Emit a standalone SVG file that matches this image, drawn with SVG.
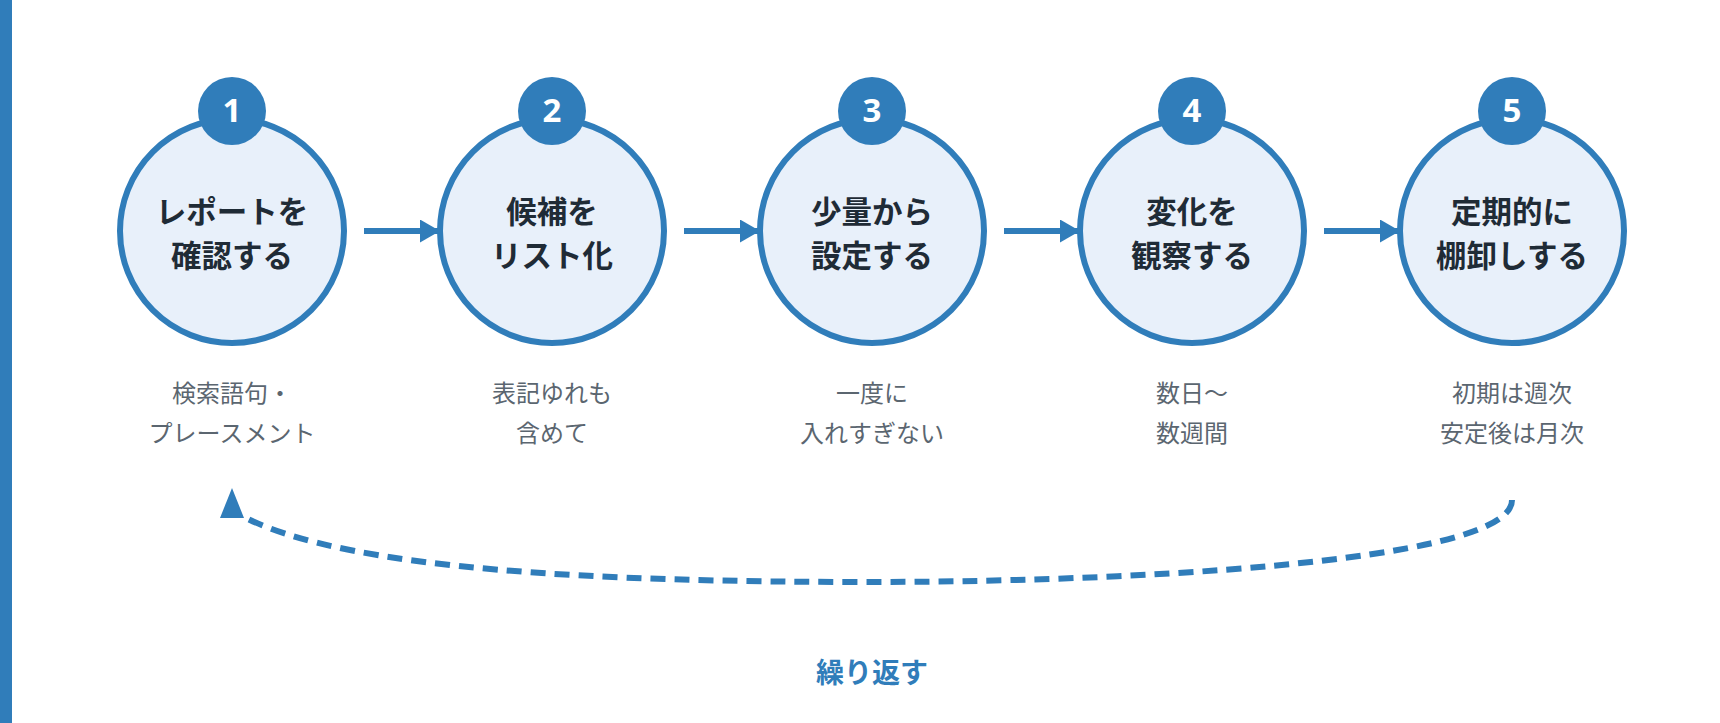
<svg xmlns="http://www.w3.org/2000/svg" width="1720" height="723" viewBox="0 0 1720 723">
<style>
.ring{fill:#e8f0fa;stroke:#307dba;stroke-width:6}
.badge{fill:#307dba}
.num{font-family:"Noto Sans","Noto Sans CJK JP",sans-serif;font-weight:700;font-size:33px;fill:#ffffff;text-anchor:middle}
.lbl{font-family:"Noto Sans CJK JP",sans-serif;font-weight:700;font-size:30.5px;fill:#1f2b36;text-anchor:middle}
.sub{font-family:"Noto Sans CJK JP",sans-serif;font-size:24px;fill:#5b6670;text-anchor:middle}
.conn{stroke:#307dba;stroke-width:6;fill:none}
.loop{stroke:#307dba;stroke-width:6;fill:none;stroke-dasharray:15 9}
.cap{font-family:"Noto Sans CJK JP",sans-serif;font-weight:700;font-size:28px;fill:#307dba;text-anchor:middle}
</style>
<defs>
<marker id="ah" markerWidth="20" markerHeight="23" refX="20" refY="11.5" orient="auto" markerUnits="userSpaceOnUse">
<path d="M0,0 L20,11.5 L0,23 Z" fill="#307dba"/>
</marker>
</defs>
<rect x="0" y="0" width="1720" height="723" fill="#ffffff"/>
<rect x="0" y="0" width="12" height="723" fill="#307dba"/>
<g id="connectors">
<line class="conn" x1="364" y1="231" x2="440" y2="231" marker-end="url(#ah)"/>
<line class="conn" x1="684" y1="231" x2="760" y2="231" marker-end="url(#ah)"/>
<line class="conn" x1="1004" y1="231" x2="1080" y2="231" marker-end="url(#ah)"/>
<line class="conn" x1="1324" y1="231" x2="1400" y2="231" marker-end="url(#ah)"/>
<path class="loop" d="M1512,500 C1512,565 1100,582 870,582 C600,582 350,570 246,518"/>
<path d="M232,488 L244,518 L220,518 Z" fill="#307dba"/>
</g>
<g id="node1">
<circle class="ring" cx="232" cy="231" r="112"/>
<circle class="badge" cx="232" cy="111" r="34"/>
<text class="num" x="232" y="122">1</text>
<text class="lbl" x="232" y="223">レポートを</text>
<text class="lbl" x="232" y="267">確認する</text>
<text class="sub" x="232" y="402">検索語句・</text>
<text class="sub" x="232" y="442">プレースメント</text>
</g>
<g id="node2">
<circle class="ring" cx="552" cy="231" r="112"/>
<circle class="badge" cx="552" cy="111" r="34"/>
<text class="num" x="552" y="122">2</text>
<text class="lbl" x="552" y="223">候補を</text>
<text class="lbl" x="552" y="267">リスト化</text>
<text class="sub" x="552" y="402">表記ゆれも</text>
<text class="sub" x="552" y="442">含めて</text>
</g>
<g id="node3">
<circle class="ring" cx="872" cy="231" r="112"/>
<circle class="badge" cx="872" cy="111" r="34"/>
<text class="num" x="872" y="122">3</text>
<text class="lbl" x="872" y="223">少量から</text>
<text class="lbl" x="872" y="267">設定する</text>
<text class="sub" x="872" y="402">一度に</text>
<text class="sub" x="872" y="442">入れすぎない</text>
</g>
<g id="node4">
<circle class="ring" cx="1192" cy="231" r="112"/>
<circle class="badge" cx="1192" cy="111" r="34"/>
<text class="num" x="1192" y="122">4</text>
<text class="lbl" x="1192" y="223">変化を</text>
<text class="lbl" x="1192" y="267">観察する</text>
<text class="sub" x="1192" y="402">数日〜</text>
<text class="sub" x="1192" y="442">数週間</text>
</g>
<g id="node5">
<circle class="ring" cx="1512" cy="231" r="112"/>
<circle class="badge" cx="1512" cy="111" r="34"/>
<text class="num" x="1512" y="122">5</text>
<text class="lbl" x="1512" y="223">定期的に</text>
<text class="lbl" x="1512" y="267">棚卸しする</text>
<text class="sub" x="1512" y="402">初期は週次</text>
<text class="sub" x="1512" y="442">安定後は月次</text>
</g>
<g id="caption">
<text class="cap" x="872" y="683">繰り返す</text>
</g>
</svg>
